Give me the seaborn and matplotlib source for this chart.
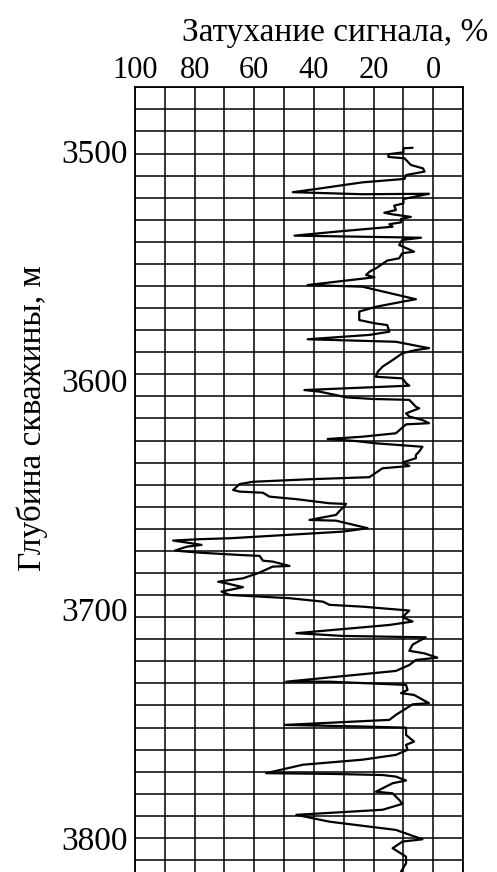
import numpy as np
import matplotlib
matplotlib.use("Agg")
import matplotlib.pyplot as plt
import seaborn as sns

# =====================================
# Data (read off the well log)
# =====================================
depth_m = [
    3498.3, 3498.5, 3500.3, 3501.1, 3502.3, 3502.9, 3505.8, 3507.3, 3508.7, 3510.2,
    3511.9, 3513.4, 3516.3, 3517.7, 3518.6, 3518.4, 3520.7, 3522.6, 3523.6, 3525.5,
    3526.7, 3527.4, 3528.5, 3529.4, 3530.9, 3531.7, 3532.8, 3534.7, 3536.7, 3537.6,
    3538.6, 3540.8, 3543.7, 3544.4, 3546.6, 3547.6, 3549.1, 3551.0, 3552.5, 3553.9,
    3554.9, 3558.3, 3559.0, 3564.5, 3565.6, 3567.8, 3569.9, 3573.6, 3575.0, 3575.8,
    3578.7, 3580.1, 3582.0, 3583.1, 3585.9, 3586.7, 3588.1, 3591.1, 3594.0, 3596.2,
    3598.4, 3599.1, 3601.2, 3602.3, 3604.2, 3604.9, 3606.4, 3607.4, 3608.1, 3608.5,
    3611.5, 3612.2, 3614.4, 3615.8, 3617.3, 3618.7, 3619.2, 3623.1, 3624.6, 3625.6,
    3626.5, 3627.5, 3629.0, 3631.1, 3632.6, 3634.0, 3635.9, 3637.4, 3638.4, 3642.3,
    3643.2, 3644.3, 3645.3, 3647.9, 3648.6, 3649.1, 3650.8, 3651.9, 3653.7, 3654.0,
    3658.8, 3661.0, 3661.3, 3664.6, 3666.1, 3669.0, 3669.4, 3670.0, 3671.2, 3671.9,
    3672.7, 3674.4, 3675.3, 3676.3, 3676.7, 3678.8, 3679.2, 3681.1, 3681.4, 3684.3,
    3686.5, 3688.0, 3688.7, 3690.4, 3692.3, 3693.8, 3695.2, 3696.7, 3698.1, 3698.9,
    3700.6, 3703.5, 3705.4, 3706.9, 3710.5, 3711.7, 3712.3, 3715.5, 3718.2, 3719.3,
    3721.2, 3722.2, 3724.4, 3727.0, 3731.7, 3731.7, 3732.8, 3733.1, 3735.3, 3736.7,
    3737.5, 3741.1, 3741.6, 3746.2, 3748.4, 3750.6, 3751.3, 3751.8, 3755.0, 3757.9,
    3759.3, 3761.5, 3763.7, 3765.8, 3768.0, 3771.7, 3772.0, 3772.5, 3773.2, 3774.9,
    3776.1, 3779.8, 3780.5, 3783.4, 3785.1, 3787.7, 3789.9, 3792.9, 3796.5, 3800.6,
    3801.6, 3804.5, 3808.2, 3811.1, 3814.8,
]

attenuation_pct = [
    6.9, 10.0, 10.0, 15.0, 15.0, 9.6, 7.5, 3.4, 2.9, 9.1,
    9.6, 23.7, 39.2, 47.1, 23.8, 1.4, 10.0, 10.0, 13.1, 12.5,
    16.4, 13.6, 7.5, 10.8, 10.8, 14.7, 13.6, 30.3, 46.5, 4.1,
    10.4, 11.4, 6.4, 10.4, 11.4, 15.4, 17.1, 19.2, 21.4, 22.5,
    19.7, 42.1, 23.8, 5.8, 10.4, 19.2, 24.8, 24.8, 19.7, 15.4,
    14.7, 21.4, 42.1, 12.5, 1.4, 5.8, 10.3, 13.6, 17.0, 18.6,
    19.2, 10.3, 9.1, 8.0, 43.2, 38.1, 32.6, 29.2, 20.3, 8.0,
    5.8, 4.7, 9.1, 8.0, 3.6, 1.4, 9.1, 12.5, 23.7, 35.4,
    25.9, 19.2, 3.6, 4.7, 5.8, 5.8, 10.3, 8.0, 17.0, 21.4,
    41.5, 60.4, 64.9, 67.1, 64.9, 57.1, 54.9, 45.9, 34.8, 29.2,
    32.6, 41.5, 32.6, 22.0, 30.3, 68.2, 78.3, 87.2, 81.0, 77.7,
    82.7, 86.6, 78.3, 64.9, 58.2, 57.1, 53.8, 48.2, 53.8, 58.8,
    63.8, 72.1, 69.3, 63.8, 71.0, 68.2, 48.2, 37.0, 34.8, 23.7,
    8.0, 10.3, 6.9, 14.7, 45.9, 30.3, 2.5, 6.9, 8.0, 3.0,
    -1.4, 5.8, 8.0, 12.5, 49.3, 34.8, 14.7, 9.1, 8.6, 10.8,
    6.4, 1.4, 6.9, 12.5, 14.7, 49.8, 23.7, 9.1, 9.1, 6.4,
    9.1, 8.6, 12.5, 23.7, 43.7, 56.0, 34.8, 17.0, 12.5, 9.1,
    13.6, 19.2, 13.6, 11.4, 10.3, 17.0, 45.9, 34.8, 12.5, 3.6,
    10.3, 13.6, 9.1, 9.1, 10.8,
]

x_ticks = [100, 80, 60, 40, 20, 0]
y_ticks = [3500, 3600, 3700, 3800]

x_label = "Затухание сигнала, %"
y_label = "Глубина скважины, м"

# =====================================
# Style
# =====================================
sns.set_theme(style="white")
plt.rcParams["font.family"] = ["Liberation Serif", "DejaVu Serif"]

fig = plt.figure(figsize=(4.97, 8.72), dpi=100)
ax = fig.add_axes([135 / 497, 0.0, 328 / 497, 1 - 87.3 / 872])

sns.lineplot(
    x=attenuation_pct,
    y=depth_m,
    sort=False,
    estimator=None,
    color="black",
    linewidth=1.6,
    ax=ax,
)

# axes limits: 100 on the left, grid runs to -10
ax.set_xlim(100, -10)
ax.set_ylim(3814.9, 3471.85)

# chart-paper grid (vertical every 10 %, horizontal rows of the paper)
ax.set_xticks(x_ticks)
ax.set_xticks(np.arange(-10, 101, 10), minor=True)
ax.set_yticks(y_ticks)
ax.set_yticks(3471.85 + 9.652 * np.arange(36), minor=True)
ax.grid(which="minor", color="black", linewidth=1.1)
ax.xaxis.grid(True, which="major", color="black", linewidth=1.1)
ax.yaxis.grid(False, which="major")

ax.xaxis.tick_top()
ax.set_xticklabels([str(t) for t in x_ticks], fontsize=22)
ax.set_yticklabels([str(t) for t in y_ticks], fontsize=24)
ax.tick_params(axis="both", which="both", length=0, colors="black")
ax.tick_params(axis="x", pad=2)
ax.tick_params(axis="y", pad=5)

for side in ["top", "left", "right"]:
    ax.spines[side].set_color("black")
    ax.spines[side].set_linewidth(1.3)
ax.spines["bottom"].set_visible(False)

ax.set_xlabel("")
ax.set_ylabel("")

fig.text(488 / 497, 1 - 33 / 872, x_label, ha="right", va="center",
         fontsize=24, color="black")
fig.text(32 / 497, 1 - 418 / 872, y_label, ha="center", va="center",
         rotation=90, fontsize=24, color="black")

fig.savefig("out.png", dpi=100)
plt.close(fig)
